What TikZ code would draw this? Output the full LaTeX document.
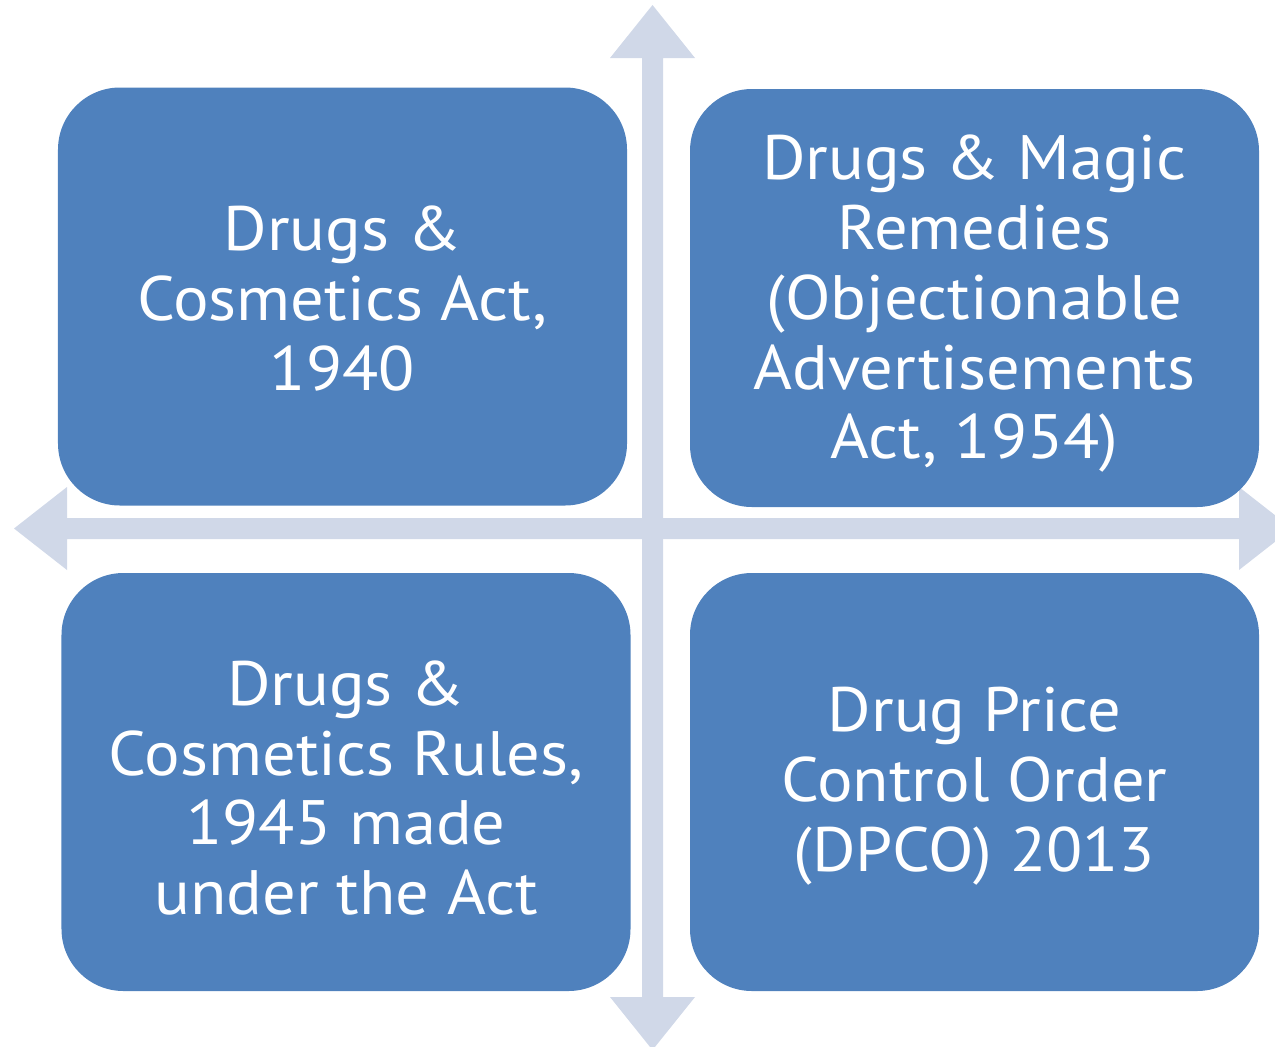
\documentclass[tikz,border=0pt]{standalone}
\usepackage{fontspec}
\setmainfont{PT Sans}[FakeStretch=1.06]
\definecolor{boxblue}{HTML}{4F81BD}
\definecolor{axisgrey}{HTML}{D0D8E8}
\begin{document}
\begin{tikzpicture}[x=1bp,y=-1bp,
  quadbox/.style={fill=boxblue, draw=none, rounded corners=62bp, inner sep=0pt,
    minimum width=569bp, minimum height=418bp},
  quadtext/.style={text=white, align=center, inner sep=0pt,
    font=\fontsize{63}{70}\selectfont},
  axis/.style={fill=axisgrey, draw=none}]
\useasboundingbox (0,0) rectangle (1275,1047);
\clip (0,0) rectangle (1275,1047);
% cross of double-headed arrows
\fill[axis] (642,58) -- (610,58) -- (652.5,5) -- (695,58) -- (663,58)
  -- (663,997) -- (695,997) -- (652.5,1050) -- (610,997) -- (642,997) -- cycle;
\fill[axis] (67,518) -- (67,487) -- (14,528.5) -- (67,570) -- (67,539)
  -- (1239,539) -- (1239,570) -- (1292,528.5) -- (1239,487) -- (1239,518) -- cycle;
% four quadrants
\node[quadbox] (tl) at (342.5,296.5) {};
\node[quadbox] (tr) at (974.5,298) {};
\node[quadbox] (bl) at (346,782) {};
\node[quadbox] (br) at (974.5,782) {};
\node[quadtext] (tlt) at ([yshift=-2bp]tl.center) {Drugs \&\\Cosmetics Act,\\1940};
\node[quadtext] (trt) at ([yshift=-6bp]tr.center) {Drugs \& Magic\\Remedies\\(Objectionable\\Advertisements\\Act, 1954)};
\node[quadtext] (blt) at ([yshift=-6bp]bl.center) {Drugs \&\\Cosmetics Rules,\\1945 made\\under the Act};
\node[quadtext] (brt) at ([yshift=-4bp]br.center) {Drug Price\\Control Order\\(DPCO) 2013};
\end{tikzpicture}
\end{document}
